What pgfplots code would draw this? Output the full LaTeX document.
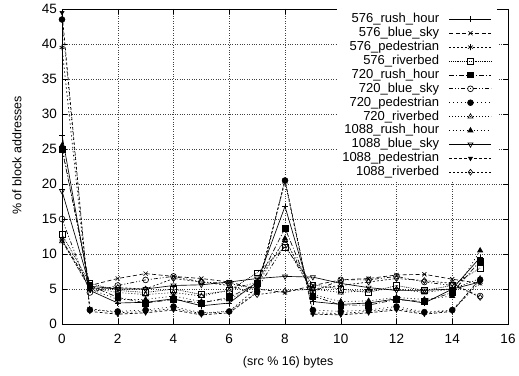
\documentclass[border=0pt]{standalone}
\usepackage{fontspec}
\setmainfont{Liberation Sans}
\usepackage{pgfplots}
\pgfplotsset{compat=1.18}
\begin{document}
\begin{tikzpicture}
\useasboundingbox (-62pt,-51pt) rectangle (457pt,324pt);
\begin{axis}[
  scale only axis, width=446pt, height=315pt,
  xmin=0, xmax=16, ymin=0, ymax=45,
  xtick={0,2,...,16}, ytick={0,5,...,45},
  minor tick num=0,
  tick align=inside, major tick length=5pt,
  tick style={black, line width=0.5pt},
  axis line style={black, line width=0.8pt},
  grid=major, grid style={black!75, line width=0.4pt, dash pattern=on 0.8pt off 1.6pt},
  /pgf/number format/assume math mode=true,
  ticklabel style={font=\fontsize{13.5}{15}\selectfont},
  yticklabel style={inner sep=0pt, xshift=-5pt},
  xticklabel style={inner sep=0pt, yshift=-10pt},
  xlabel={(src \% 16) bytes},
  ylabel={\% of block addresses},
  label style={font=\fontsize{12.5}{14}\selectfont},
  xlabel style={at={(axis description cs:0.507,-0.1206)}, anchor=center},
  ylabel style={at={(axis description cs:-0.1009,0.535)}, anchor=center},
  every axis plot/.append style={black, line width=0.65pt, mark size=2.9pt},
  legend style={
    font=\fontsize{13}{14}\selectfont,
    draw=none, fill=white,
    at={(axis description cs:1,1)}, anchor=north east,
    xshift=-11pt, yshift=0pt,
    inner xsep=5pt, inner ysep=4pt,
    row sep=1.7pt, column sep=10pt,
    nodes={inner sep=0pt, text height=9.5pt, text depth=2.7pt},
  },
  legend cell align=right,
  legend plot pos=right,
  legend image code/.code={
    \draw[mark repeat=2,mark phase=2,#1] plot coordinates {(0pt,0pt) (21pt,0pt) (42pt,0pt)};
  },
]
% 576_rush_hour
\addplot[solid, mark=+, mark options={solid}] coordinates {
(0,27.0) (1,4.8) (2,3.0) (3,3.1) (4,3.6) (5,2.6) (6,3.0) (7,6.0) (8,16.8) (9,3.2) (10,2.8) (11,3.0) (12,3.6) (13,3.0) (14,5.0) (15,9.5)};
\addlegendentry{576\_rush\_hour}
% 576_blue_sky
\addplot[dash pattern=on 4pt off 2.5pt, mark=x, mark options={solid}] coordinates {
(0,12.0) (1,5.5) (2,6.5) (3,7.2) (4,6.8) (5,6.5) (6,6.0) (7,5.0) (8,4.5) (9,5.5) (10,6.3) (11,6.5) (12,7.0) (13,7.1) (14,6.4) (15,5.8)};
\addlegendentry{576\_blue\_sky}
% 576_pedestrian
\addplot[dash pattern=on 1.5pt off 2.5pt, mark=asterisk, mark options={solid}] coordinates {
(0,39.5) (1,2.2) (2,1.6) (3,1.8) (4,2.2) (5,1.5) (6,1.8) (7,5.2) (8,20.3) (9,1.6) (10,1.5) (11,1.8) (12,2.2) (13,1.6) (14,1.9) (15,6.0)};
\addlegendentry{576\_pedestrian}
% 576_riverbed
\addplot[dash pattern=on 0.8pt off 1pt, mark=square, mark options={solid}] coordinates {
(0,12.8) (1,5.8) (2,4.8) (3,4.5) (4,5.0) (5,4.2) (6,4.8) (7,7.3) (8,11.0) (9,5.6) (10,5.0) (11,4.5) (12,5.5) (13,4.8) (14,5.5) (15,8.0)};
\addlegendentry{576\_riverbed}
% 720_rush_hour
\addplot[dash pattern=on 5pt off 2pt on 1pt off 2pt, mark=square*, mark options={solid}] coordinates {
(0,25.0) (1,5.5) (2,3.8) (3,3.0) (4,3.5) (5,3.0) (6,3.8) (7,5.8) (8,13.7) (9,4.0) (10,2.7) (11,2.7) (12,3.5) (13,3.2) (14,4.5) (15,9.0)};
\addlegendentry{720\_rush\_hour}
% 720_blue_sky
\addplot[dash pattern=on 4pt off 2pt on 1pt off 2pt on 1pt off 2pt, mark=o, mark options={solid}] coordinates {
(0,15.0) (1,4.5) (2,5.5) (3,6.3) (4,6.8) (5,6.0) (6,5.8) (7,5.0) (8,11.3) (9,4.6) (10,6.3) (11,6.3) (12,6.8) (13,6.0) (14,5.5) (15,4.0)};
\addlegendentry{720\_blue\_sky}
% 720_pedestrian
\addplot[dash pattern=on 1pt off 3pt, mark=*, mark options={solid}] coordinates {
(0,43.5) (1,2.0) (2,1.8) (3,2.0) (4,2.5) (5,1.6) (6,1.8) (7,4.6) (8,20.5) (9,2.0) (10,1.8) (11,2.0) (12,2.5) (13,1.7) (14,2.0) (15,6.3)};
\addlegendentry{720\_pedestrian}
% 720_riverbed
\addplot[dash pattern=on 1pt off 2pt, mark=triangle, mark options={solid}] coordinates {
(0,11.8) (1,5.2) (2,4.5) (3,4.2) (4,4.5) (5,4.0) (6,4.8) (7,6.0) (8,12.0) (9,5.0) (10,4.5) (11,4.8) (12,5.0) (13,4.5) (14,5.0) (15,6.5)};
\addlegendentry{720\_riverbed}
% 1088_rush_hour
\addplot[dash pattern=on 1pt off 2.5pt, mark=triangle*, mark options={solid}] coordinates {
(0,25.5) (1,5.0) (2,3.5) (3,3.5) (4,4.0) (5,3.2) (6,3.5) (7,5.5) (8,12.2) (9,4.2) (10,3.2) (11,3.3) (12,3.8) (13,3.5) (14,4.0) (15,10.5)};
\addlegendentry{1088\_rush\_hour}
% 1088_blue_sky
\addplot[solid, mark=triangle, mark options={solid, rotate=180}] coordinates {
(0,19.0) (1,5.4) (2,5.0) (3,5.0) (4,5.5) (5,5.6) (6,6.0) (7,6.5) (8,6.8) (9,6.7) (10,5.8) (11,5.2) (12,4.8) (13,4.8) (14,5.0) (15,6.0)};
\addlegendentry{1088\_blue\_sky}
% 1088_pedestrian
\addplot[dash pattern=on 3pt off 2pt, mark=triangle*, mark options={solid, rotate=180, scale=0.8}] coordinates {
(0,44.5) (1,1.8) (2,1.4) (3,1.6) (4,2.0) (5,1.3) (6,1.6) (7,4.5) (8,20.6) (9,1.4) (10,1.3) (11,1.6) (12,2.0) (13,1.4) (14,1.8) (15,6.5)};
\addlegendentry{1088\_pedestrian}
% 1088_riverbed
\addplot[dash pattern=on 2pt off 2pt, mark=diamond, mark options={solid}] coordinates {
(0,12.0) (1,5.0) (2,5.2) (3,5.0) (4,6.5) (5,6.0) (6,5.5) (7,4.2) (8,4.7) (9,5.0) (10,5.5) (11,6.0) (12,6.5) (13,6.2) (14,5.8) (15,3.8)};
\addlegendentry{1088\_riverbed}
\end{axis}
\end{tikzpicture}
\end{document}
